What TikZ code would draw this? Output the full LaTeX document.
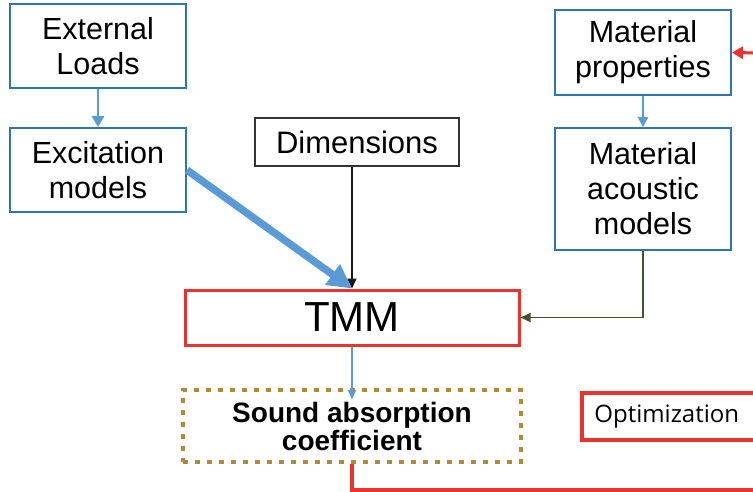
\documentclass[tikz,border=0pt]{standalone}
\usepackage{fontspec}
\setmainfont{Liberation Sans}
\newfontfamily\optfont{Open Sans}
\usetikzlibrary{arrows.meta}
\definecolor{boxblue}{RGB}{46,117,182}
\definecolor{arrblue}{RGB}{91,155,213}
\definecolor{tmmred}{RGB}{234,51,47}
\definecolor{dotgold}{RGB}{176,138,52}
\definecolor{linkgreen}{RGB}{62,86,42}
\begin{document}
\begin{tikzpicture}[x=1pt,y=-1pt,
  bluebox/.style={draw=boxblue,line width=1.8pt,minimum width=176pt,inner sep=0pt,align=center,font=\fontsize{30.5}{35}\selectfont}]
\useasboundingbox (0,0) rectangle (753,492);
\node [bluebox,minimum height=84pt] (loads) at (98,46) {External\\Loads};
\node [bluebox,minimum height=84pt] (excit) at (98,170) {Excitation\\models};
\node [bluebox,minimum height=85pt] (props) at (643,52.5) {Material\\properties};
\node [bluebox,minimum height=122pt] (acoustic) at (643,189) {Material\\acoustic\\models};
\node [draw=black!80,line width=1.1pt,minimum width=204pt,minimum height=48pt,inner sep=0pt,font=\fontsize{31}{35}\selectfont] (dims) at (357,142) {Dimensions};
\node [draw=tmmred,line width=3pt,minimum width=334pt,minimum height=55pt,inner sep=0pt,font=\fontsize{42}{48}\selectfont] (tmm) at (352,317.5) {TMM};
\node [draw=dotgold,line width=4.5pt,dash pattern=on 5pt off 7pt,minimum width=338pt,minimum height=72pt,inner sep=0pt,align=center,font=\fontsize{28}{28}\selectfont\bfseries] (sound) at (352,426) {Sound absorption\\coefficient};
\node [draw=tmmred,line width=3.5pt,minimum width=200pt,minimum height=47pt,inner sep=0pt,anchor=west,font=\optfont\fontsize{24}{28}\selectfont] (optim) at (580,416.5) {\hspace*{-30pt}Optimization};
\coordinate (propin) at (760,53);
\coordinate (optend) at (760,490);
\draw [arrblue,line width=2.8pt,-{Triangle[width=12pt,length=11pt]}] (loads) -- (excit);
\draw [arrblue,line width=2.2pt,-{Triangle[width=10pt,length=10pt]}] (props) -- (acoustic);
\draw [arrblue,line width=7.5pt,-{Triangle[width=24pt,length=24pt]}] (excit.east) -- (tmm.north);
\draw [black!90,line width=1.5pt,-{Triangle[width=9pt,length=10pt]}] (tmm.north |- dims.south) -- (tmm.north);
\draw [linkgreen,line width=1.8pt,-{Triangle[width=9pt,length=10pt]}] (acoustic.south) |- (tmm.east);
\draw [arrblue,line width=1.8pt,-{Triangle[width=8pt,length=10pt]}] (tmm.south) -- ([yshift=-12pt]sound.north);
\draw [tmmred,line width=3.5pt] (sound.south) |- (optend);
\draw [tmmred,line width=3pt,-{Triangle[width=12pt,length=11pt]}] (propin) -- (props.east);
\end{tikzpicture}
\end{document}
